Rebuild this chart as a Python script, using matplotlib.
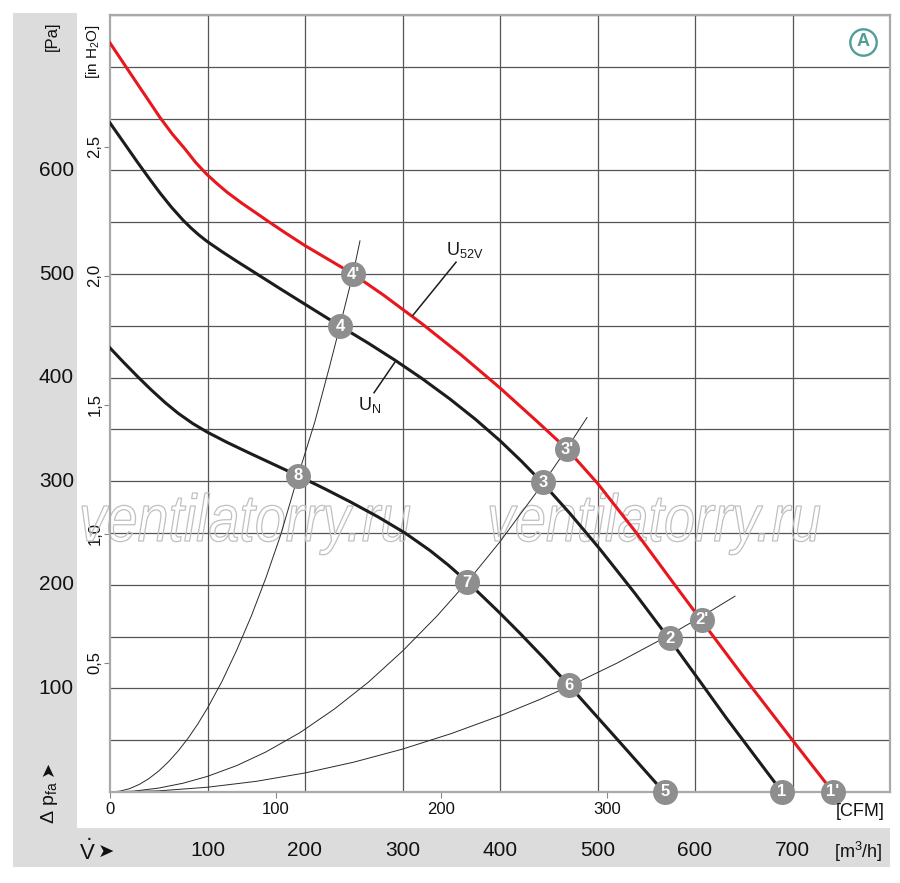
import matplotlib
matplotlib.use("Agg")
import matplotlib.pyplot as plt
from matplotlib.font_manager import FontProperties
from matplotlib.textpath import TextPath
from matplotlib.patches import PathPatch, Rectangle
from matplotlib.transforms import Affine2D, IdentityTransform, blended_transform_factory
from matplotlib.ticker import MultipleLocator, FixedLocator, FixedFormatter

# ---------------- data ----------------
# fan curves: airflow [m3/h], static pressure [Pa]
u52v_flow = [0, 12.8, 25.6, 38.5, 51.3, 64, 76.9, 88, 99.5, 110, 120, 135, 150, 162, 180, 200,
             225, 249.2, 280, 320, 360, 400, 440, 468.7, 500, 540, 580, 607, 650, 700, 741.5]
u52v_pres = [723, 705, 687, 669, 651, 635, 620.7, 607.5, 596, 587, 579, 568.5, 558.8, 551, 539.6, 527.4,
             513.5, 500, 480, 452, 422, 390, 356, 331, 298, 250, 199, 165, 111, 50, 0]

un_flow = [0, 14, 28.7, 40, 51.3, 63, 74.9, 83, 91, 99.5, 115, 130, 148.7, 175, 200, 235.9,
           265, 292.3, 320, 348.7, 375, 400, 422, 444.1, 471.8, 502.6, 538.5, 574.4, 605, 631.8, 689.2]
un_pres = [645.8, 627, 607.2, 592.5, 578.2, 564.5, 552, 544.5, 537.8, 531.5, 521.5, 512.3, 501.2, 485.5,
           470.8, 449.8, 433.2, 416.8, 399.1, 379.3, 359.6, 339.1, 319.3, 297.9, 268.8, 234.3, 191.6,
           146.7, 106.9, 71.8, 0]

low_flow = [0, 14, 28.7, 42, 56.4, 70, 85, 99.5, 120, 143.6, 168, 192.8, 220, 246.2, 275, 302.6,
            328.2, 347, 366.2, 383, 400, 420.5, 445, 470.8, 520, 568.2]
low_pres = [428.6, 414.7, 400.6, 388.4, 376.0, 365.5, 355.6, 347.5, 337.5, 326.9, 316.2, 305.3, 292.8,
            280.2, 265.5, 250.0, 233.1, 219.0, 203.1, 188.0, 172.6, 153.2, 129.2, 102.9, 51.1, 0]

# system (resistance) curves
sys_a_flow = [0, 10, 20, 30, 40, 50, 60, 70, 80, 90, 100, 115, 130, 145, 160, 175, 192.8, 210,
              225, 235.9, 249.2, 256.4]
sys_a_pres = [0, 0.8, 3.2, 7.3, 13, 20.3, 29.2, 39.7, 51.8, 65.6, 81, 107, 137, 170, 207, 248, 305,
              357, 410, 450, 500, 532]
sys_b_flow = [0, 25, 50, 75, 100, 130, 160, 195, 230, 265, 300, 335, 366.2, 400, 444.1, 468.7, 489.2]
sys_b_pres = [0, 0.9, 3.8, 8.5, 15.1, 25.5, 38.7, 57.4, 80, 106, 136, 169.5, 202.5, 241.6, 297.8,
              331.7, 361.4]
sys_c_flow = [0, 50, 100, 150, 200, 250, 300, 350, 400, 440, 470.8, 520, 574.4, 607.5, 641]
sys_c_pres = [0, 1.1, 4.6, 10.3, 18.4, 28.8, 41.4, 56.4, 73.6, 89, 102, 124.4, 151.8, 169.8, 189]

# operating points
pt_labels = ["1", "1'", "2", "2'", "3", "3'", "4", "4'", "5", "6", "7", "8"]
pt_flow = [689.2, 741.5, 574.4, 607.5, 444.1, 468.7, 235.9, 249.2, 569.2, 470.8, 366.2, 192.8]
pt_pres = [0, 0, 148.5, 166.5, 299.0, 331.0, 449.8, 500.0, 0, 103.0, 202.5, 305.5]

# curve labels: (text position, leader line x's, leader line y's)
u52v_label_pos = (364.1, 523.0)
u52v_leader = ([310.8, 354.9], [460.3, 511.4])
un_label_pos = (266.7, 373.4)
un_leader = ([292.3, 270.8], [415.0, 385.4])

# axis ticks / labels
pa_ticks = [100, 200, 300, 400, 500, 600]
m3h_ticks = [100, 200, 300, 400, 500, 600, 700]
cfm_ticks = [0, 100, 200, 300]
inh2o_ticks = [0.5, 1.0, 1.5, 2.0, 2.5]
inh2o_labels = ["0,5", "1,0", "1,5", "2,0", "2,5"]
CFM_TO_M3H = 1.699
INH2O_TO_PA = 249.09

# ---------------- style ----------------
FAM = ["Liberation Sans", "DejaVu Sans"]
plt.rcParams["font.family"] = FAM
INK = "#111111"

W, H = 900, 883
def fx(px):
    return px / W
def fy(py):
    return 1 - py / H

fig = plt.figure(figsize=(W / 100, H / 100), dpi=100)
fig.patch.set_facecolor("white")
band = "#dcdcdd"
fig.patches.append(Rectangle((fx(13), fy(867)), fx(77) - fx(13), fy(13) - fy(867),
                             transform=fig.transFigure, facecolor=band, edgecolor="none", zorder=-2))
fig.patches.append(Rectangle((fx(13), fy(867)), fx(890) - fx(13), fy(828) - fy(867),
                             transform=fig.transFigure, facecolor=band, edgecolor="none", zorder=-2))

ax = fig.add_axes([fx(110), fy(792), (890 - 110) / W, (792 - 15) / H])
ax.set_xlim(0, 800)
ax.set_ylim(0, 750)
ax.set_axisbelow(True)
ax.set_facecolor("white")
for s in ax.spines.values():
    s.set_color("#a9a9a9")
    s.set_linewidth(1.6)

ax.xaxis.set_minor_locator(MultipleLocator(100))
ax.yaxis.set_minor_locator(MultipleLocator(50))
ax.grid(which="minor", color="#555555", linewidth=0.9)
ax.grid(which="major", visible=False)
ax.tick_params(which="minor", length=0)

ax.xaxis.set_major_locator(FixedLocator([c * CFM_TO_M3H for c in cfm_ticks]))
ax.xaxis.set_major_formatter(FixedFormatter([str(c) for c in cfm_ticks]))
ax.yaxis.set_major_locator(FixedLocator([v * INH2O_TO_PA for v in inh2o_ticks]))
ax.yaxis.set_major_formatter(FixedFormatter(inh2o_labels))
ax.tick_params(axis="x", which="major", length=4.5, width=0.8, color="#888888",
               labelsize=12, pad=2.5, labelcolor=INK)
ax.tick_params(axis="y", which="major", length=4, width=0.8, color="#888888",
               labelsize=12, pad=1.5, labelrotation=90, labelcolor=INK)
for lab in ax.get_yticklabels():
    lab.set_va("center")

# watermark
fp_wm = FontProperties(family="Liberation Sans", style="italic")
tp = TextPath((0, 0), "ventilatorry.ru", size=100, prop=fp_wm)
bb = tp.get_extents()
l_top = TextPath((0, 0), "l", size=100, prop=fp_wm).get_extents().y1
for x0, x1, base in [(82, 410, 541), (490, 820, 541)]:
    sx = (x1 - x0) / bb.width
    sy = 48.0 / l_top
    tr = Affine2D().translate(-bb.x0, 0).scale(sx, sy).translate(x0, H - base)
    patch = PathPatch(tr.transform_path(tp), transform=IdentityTransform(),
                      facecolor="none", edgecolor="#c0c0c0", linewidth=0.9,
                      zorder=1.8, clip_on=False)
    ax.add_artist(patch)

# system curves
for fxs, pys in [(sys_a_flow, sys_a_pres), (sys_b_flow, sys_b_pres), (sys_c_flow, sys_c_pres)]:
    ax.plot(fxs, pys, color="#2a2a2a", linewidth=0.7, zorder=2)

# fan curves
ax.plot(low_flow, low_pres, color="#1c1c1c", linewidth=2.2, zorder=3, solid_joinstyle="round")
ax.plot(un_flow, un_pres, color="#1c1c1c", linewidth=2.2, zorder=3, solid_joinstyle="round")
ax.plot(u52v_flow, u52v_pres, color="#e8161d", linewidth=2.2, zorder=3, solid_joinstyle="round")

# leaders + labels
ax.plot(*u52v_leader, color="#1c1c1c", linewidth=1.1, zorder=3)
ax.plot(*un_leader, color="#1c1c1c", linewidth=1.1, zorder=3)
ax.text(*u52v_label_pos, r"U$_{\mathregular{52V}}$", fontsize=13, ha="center", va="center",
        color="#1a1a1a", zorder=4)
ax.text(*un_label_pos, r"U$_{\mathregular{N}}$", fontsize=13, ha="center", va="center",
        color="#1a1a1a", zorder=4)

# operating points
ax.plot(pt_flow, pt_pres, "o", markersize=18, color="#8e8e8e", markeredgecolor="none",
        zorder=5, clip_on=False)
for lab, xv, yv in zip(pt_labels, pt_flow, pt_pres):
    ax.text(xv, yv, lab, fontsize=12, fontweight="bold", color="white",
            ha="center", va="center", zorder=6, clip_on=False)

# badge A
teal = "#4f9e98"
ax.plot([0.9655], [0.9655], "o", markersize=19, markerfacecolor="none", markeredgecolor=teal,
        markeredgewidth=1.7, transform=ax.transAxes, clip_on=False, zorder=6)
ax.text(0.9655, 0.9655, "A", transform=ax.transAxes, fontsize=13, fontweight="bold",
        color=teal, ha="center", va="center", zorder=7)

# Pa labels in left band
tr_pa = blended_transform_factory(fig.transFigure, ax.transData)
for v in pa_ticks:
    ax.text(fx(74), v, str(v), transform=tr_pa, fontsize=15, ha="right", va="center",
            color=INK, clip_on=False)
# m3/h labels in bottom band
tr_m3 = blended_transform_factory(ax.transData, fig.transFigure)
for v in m3h_ticks:
    ax.text(v, fy(851), str(v), transform=tr_m3, fontsize=15, ha="center", va="center",
            color=INK, clip_on=False)

fig.text(fx(52), fy(36), "[Pa]", rotation=90, fontsize=12, ha="center", va="center", color=INK)
fig.text(fx(93), fy(24), r"[in H$_{\mathregular{2}}$O]", rotation=90, fontsize=11,
         ha="center", va="top", color=INK)
fig.text(fx(860), fy(811), "[CFM]", fontsize=13, ha="center", va="center", color=INK)
fig.text(fx(858), fy(852), r"[m$^{\mathregular{3}}$/h]", fontsize=13, ha="center", va="center",
         color=INK)
fig.text(fx(49), fy(824), r"Δ p$_{\mathregular{fa}}$", rotation=90, fontsize=14,
         ha="center", va="bottom", color=INK)
fig.text(fx(48), fy(768), "➤", rotation=90, fontsize=13, ha="center", va="center",
         color=INK, family=["DejaVu Sans"])
fig.text(fx(87), fy(852), r"$\dot{\mathregular{V}}$", fontsize=16, ha="center", va="center",
         color=INK)
fig.text(fx(106), fy(852), "➤", fontsize=14, ha="center", va="center",
         color=INK, family=["DejaVu Sans"])

fig.savefig("out.png", dpi=100, facecolor="white")
